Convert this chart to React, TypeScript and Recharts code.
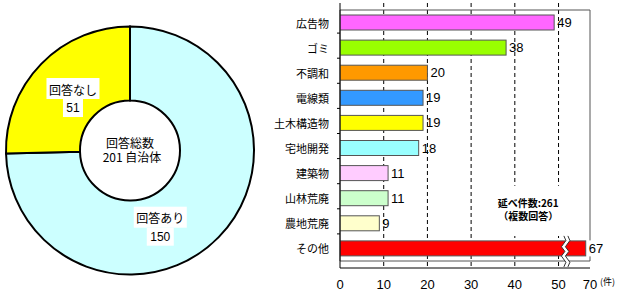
import React from 'react';
import {
  PieChart, Pie, Cell, Label,
  BarChart, Bar, XAxis, YAxis, CartesianGrid, LabelList, ReferenceArea,
} from 'recharts';

// ---- response breakdown (donut) ----
const RESPONSE_NAMES = ['回答あり', '回答なし'];
const RESPONSE_VALUES = [150, 51];
const RESPONSE_COLORS = ['#CCFFFF', '#FFFF00'];
const TOTAL_LINES = ['回答総数', '201 自治体'];

// ---- problem categories (bar) ----
const CATEGORIES = ['広告物', 'ゴミ', '不調和', '電線類', '土木構造物', '宅地開発', '建築物', '山林荒廃', '農地荒廃', 'その他'];
const COUNTS = [49, 38, 20, 19, 19, 18, 11, 11, 9, 67];
const BAR_COLORS = ['#FF66FF', '#99FF00', '#FF9900', '#3399FF', '#FFFF00', '#99FFFF', '#FFCCFF', '#CCFFCC', '#FFFFCC', '#FF0000'];
const X_TICKS = [0, 10, 20, 30, 40, 50, 70];
const GRID_VALUES = [10, 20, 30, 40, 50];
const NOTE_LINES = ['延べ件数:261', '（複数回答）'];
const UNIT = '(件)';

// broken value axis: linear up to the break, compressed above it
const AXIS_BREAK = 51;
const AXIS_MAX = 70;
const AXIS_MAX_POS = 57.2;
const SQUEEZE = (AXIS_MAX_POS - AXIS_BREAK) / (AXIS_MAX - AXIS_BREAK);
const toAxis = (v: number) => (v <= AXIS_BREAK ? v : AXIS_BREAK + (v - AXIS_BREAK) * SQUEEZE);
const fromAxis = (p: number) => (p <= AXIS_BREAK ? p : AXIS_BREAK + (p - AXIS_BREAK) / SQUEEZE);

const responseData = RESPONSE_NAMES.map((name, i) => ({ name, value: RESPONSE_VALUES[i] }));
const barData = CATEGORIES.map((name, i) => ({ name, count: COUNTS[i], pos: toAxis(COUNTS[i]) }));

const JP = '"Noto Sans CJK JP", "Noto Sans", sans-serif';
const NUM = '"Liberation Sans", Arial, "Noto Sans CJK JP", sans-serif';

// label placement around the ring (radius, angular shift from the slice middle)
const PIE_LABEL_STYLE = [
  { radius: 82, shift: -24 },
  { radius: 77.5, shift: 1.7 },
];

const renderResponseLabel = (props: any) => {
  const { cx, cy, midAngle, index, payload } = props;
  const st = PIE_LABEL_STYLE[index];
  const a = ((midAngle + st.shift) * Math.PI) / 180;
  const x = cx + st.radius * Math.cos(a);
  const y = cy - st.radius * Math.sin(a);
  const name = payload.name as string;
  const val = String(payload.value);
  const w1 = name.length * 12 + 5;
  const w2 = val.length * 7 + 6;
  return (
    <g>
      <rect x={x - w1 / 2} y={y - 20} width={w1} height={21} fill="#fff" />
      <rect x={x - w2 / 2} y={y + 1} width={w2} height={18} fill="#fff" />
      <text x={x} y={y - 9} textAnchor="middle" dominantBaseline="central" fontSize={12} fontFamily={JP} fill="#000">{name}</text>
      <text x={x} y={y + 10} textAnchor="middle" dominantBaseline="central" fontSize={12} fontFamily={NUM} fill="#000">{val}</text>
    </g>
  );
};

const renderCenter = (props: any) => {
  const vb = props.viewBox || {};
  const cx = vb.cx ?? 130;
  const cy = vb.cy ?? 150;
  return (
    <g>
      <text x={cx} y={cy - 8} textAnchor="middle" dominantBaseline="central" fontSize={12} fontFamily={JP} fill="#000">{TOTAL_LINES[0]}</text>
      <text x={cx + 2} y={cy + 6} textAnchor="middle" dominantBaseline="central" fontSize={12} fontFamily={JP} fill="#000">{TOTAL_LINES[1]}</text>
    </g>
  );
};

const CategoryTick = (props: any) => {
  const { x, y, payload, index } = props;
  const half = payload && typeof payload.offset === 'number' && payload.offset > 0 ? payload.offset : 12.55;
  const ax = x + 11;
  return (
    <g>
      <text x={x} y={y} textAnchor="end" dominantBaseline="central" fontSize={11} fontFamily={JP} fill="#000">{payload.value}</text>
      {index < CATEGORIES.length - 1 && (
        <line x1={ax - 3} x2={ax} y1={y + half - 2} y2={y + half - 2} stroke="#000" strokeWidth={1} />
      )}
    </g>
  );
};

// bar with an axis-break marker drawn across it when the value passes the break
const BreakableBar = (props: any) => {
  const { x, y, width, height, fill, payload } = props;
  const out = [
    <rect key="r" x={x} y={y} width={width} height={height} fill={fill} stroke="#555" strokeWidth={1} />,
  ];
  if (payload && payload.count > AXIS_BREAK) {
    const bx = x + (width * toAxis(AXIS_BREAK)) / payload.pos;
    const top = y - 5;
    const bot = y + height + 11;
    const wave = [[0, 1], [0.15, 3], [0.35, -1.5], [0.5, 2], [0.65, -1.5], [0.85, 3], [1, 1]];
    const left = wave.map(([t, o]) => [bx + o, top + t * (bot - top)]);
    const right = wave.map(([t, o]) => [bx + o + 4, top + t * (bot - top)]);
    const poly = [...left, ...right.slice().reverse()].map((p) => p.join(',')).join(' ');
    out.push(<polygon key="p" points={poly} fill="#fff" stroke="none" />);
    out.push(<polyline key="l" points={left.map((p) => p.join(',')).join(' ')} fill="none" stroke="#333" strokeWidth={1} />);
    out.push(<polyline key="rr" points={right.map((p) => p.join(',')).join(' ')} fill="none" stroke="#333" strokeWidth={1} />);
  }
  return <g>{out}</g>;
};

const renderValue = (props: any) => {
  const { x, y, width, height, value, index } = props;
  const tx = x + width + 3;
  const ty = y + height / 2;
  const s = String(value);
  return (
    <g>
      {COUNTS[index] > AXIS_BREAK && <rect x={tx - 1} y={ty - 8} width={s.length * 7.5 + 2} height={16} fill="#fff" />}
      <text x={tx} y={ty} dominantBaseline="central" fontSize={13} fontFamily={NUM} fill="#000">{s}</text>
    </g>
  );
};

const renderNote = (props: any) => {
  const vb = props.viewBox || {};
  const cx = (vb.x ?? 0) + (vb.width ?? 0) / 2;
  const top = vb.y ?? 0;
  return (
    <g>
      <text x={cx} y={top + 17} textAnchor="middle" dominantBaseline="central" fontSize={10} fontWeight="bold" fontFamily={JP} fill="#000">{NOTE_LINES[0]}</text>
      <text x={cx} y={top + 29.5} textAnchor="middle" dominantBaseline="central" fontSize={10} fontWeight="bold" fontFamily={JP} fill="#000">{NOTE_LINES[1]}</text>
    </g>
  );
};

export default function App() {
  return (
    <div style={{ position: 'absolute', left: 0, top: 0, width: 620, height: 295, background: '#fff' }}>
      <div style={{ position: 'absolute', left: 0, top: 0 }}>
        <PieChart width={260} height={295} margin={{ top: 0, right: 0, bottom: 0, left: 0 }}>
          <Pie
            data={responseData}
            dataKey="value"
            nameKey="name"
            cx={130}
            cy={150.5}
            innerRadius={50}
            outerRadius={124}
            startAngle={90}
            endAngle={-270}
            stroke="#000"
            strokeWidth={2}
            label={renderResponseLabel}
            labelLine={false}
            isAnimationActive={false}
          >
            {responseData.map((d, i) => (
              <Cell key={d.name} fill={RESPONSE_COLORS[i]} />
            ))}
            <Label position="center" content={renderCenter} />
          </Pie>
        </PieChart>
      </div>
      <div style={{ position: 'absolute', left: 260, top: 0 }}>
        <BarChart
          width={360}
          height={295}
          data={barData}
          layout="vertical"
          margin={{ top: 3, right: 30, bottom: 5, left: 5 }}
          barSize={15}
        >
          <CartesianGrid horizontal={false} vertical verticalValues={GRID_VALUES} stroke="#000" strokeDasharray="4 3" />
          <XAxis
            type="number"
            dataKey="pos"
            domain={[0, AXIS_MAX_POS]}
            ticks={X_TICKS.map(toAxis)}
            tickFormatter={(v: number) => String(Math.round(fromAxis(v)))}
            allowDataOverflow
            height={22}
            tickSize={0}
            tickMargin={12}
            tickLine={false}
            axisLine={{ stroke: '#000' }}
            tick={{ fontSize: 13, fontFamily: NUM, fill: '#000' }}
            interval={0}
            label={{ value: UNIT, position: 'right', offset: 10, fontSize: 9, fontFamily: JP, fill: '#000', dy: 3 }}
          />
          <YAxis
            type="category"
            dataKey="name"
            width={75}
            tickSize={0}
            tickMargin={11}
            tickLine={false}
            axisLine={{ stroke: '#000' }}
            tick={<CategoryTick />}
            interval={0}
            padding={{ top: 7, bottom: 7 }}
          />
          {/* plot frame */}
          <ReferenceArea x1={0} x2={AXIS_MAX_POS} fill="none" fillOpacity={0} stroke="#555" strokeWidth={1} ifOverflow="visible" />
          <ReferenceArea
            x1={35.5}
            x2={50.6}
            y1={CATEGORIES[7]}
            y2={CATEGORIES[8]}
            fill="#fff"
            fillOpacity={1}
            stroke="none"
            ifOverflow="visible"
            label={renderNote}
          />
          <Bar dataKey="pos" shape={<BreakableBar />} isAnimationActive={false}>
            {barData.map((d, i) => (
              <Cell key={d.name} fill={BAR_COLORS[i]} />
            ))}
            <LabelList dataKey="count" content={renderValue} />
          </Bar>
        </BarChart>
      </div>
    </div>
  );
}
